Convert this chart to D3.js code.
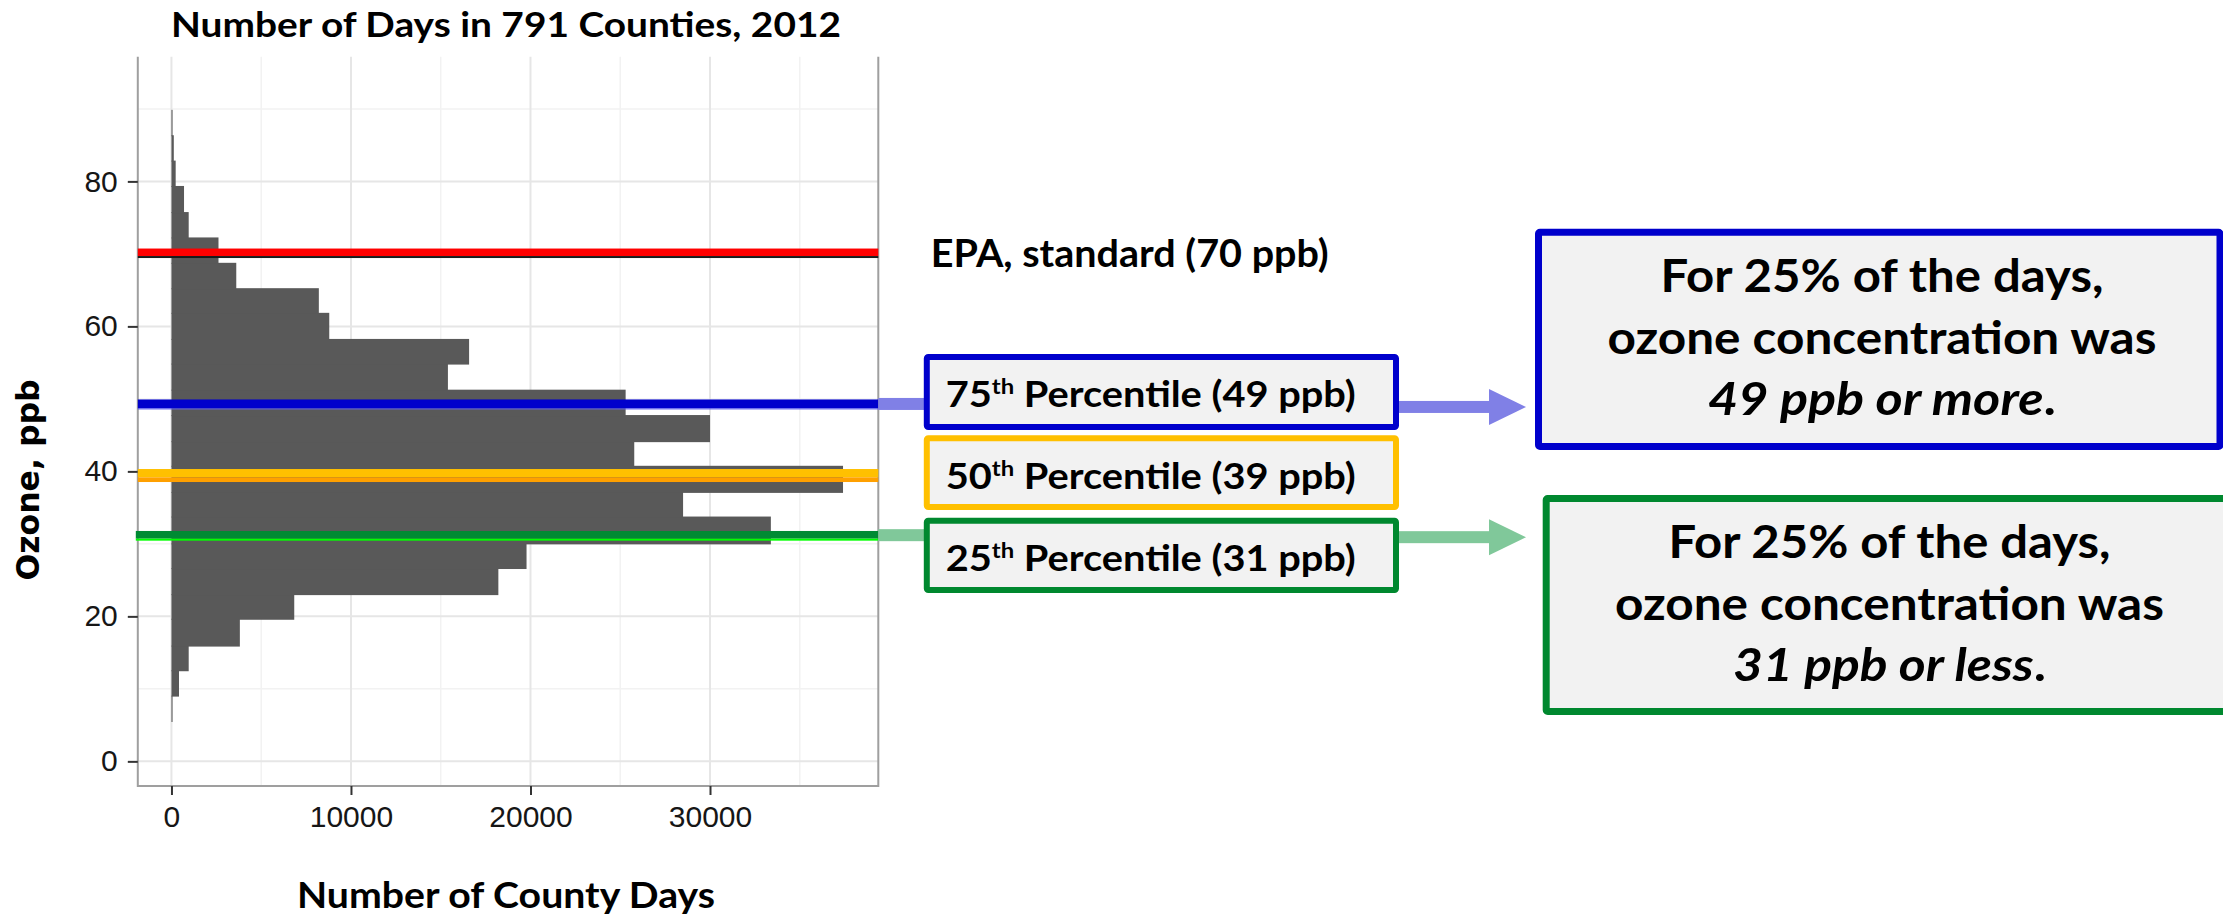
<!DOCTYPE html>
<html>
<head>
<meta charset="utf-8">
<script src="https://cdn.jsdelivr.net/npm/d3@7/dist/d3.min.js"></script>
<style>
  body { margin: 0; background: #ffffff; }
  svg { font-family: Lato, "Open Sans", sans-serif; }
</style>
</head>
<body>
<svg id="chart" width="2223" height="919"></svg>
<script>
// histogram of ozone (ppb) - bin edges and county-day counts
var binEdges = [5.5, 9.0, 12.5, 15.9, 19.6, 23.0, 26.6, 30.0, 33.7, 37.1, 40.7, 44.1, 47.7,
                51.2, 54.8, 58.2, 61.8, 65.2, 68.7, 72.2, 75.7, 79.3, 82.8, 86.3, 89.8];
var binCounts = [60, 420, 960, 3810, 6840, 18210, 19780, 33390, 28500, 37410, 25780, 30000,
                 25300, 15400, 16580, 8790, 8210, 3610, 2620, 960, 700, 235, 130, 60];

var xTicks = [0, 10000, 20000, 30000];
var xMinor = [5000, 15000, 25000, 35000];
var yTicks = [0, 20, 40, 60, 80];
var yMinor = [10, 30, 50, 70, 90];

// reference lines: EPA standard, 75th, 50th, 25th percentile (where they are drawn)
var refLevels = [70.2, 49.3, 39.4, 31.2];
var pctRanks = ["75", "50", "25"];
var pctValues = [49, 39, 31];

var titleText = "Number of Days in 791 Counties, 2012";
var xTitle = "Number of County Days";
var yTitle = "Ozone, ppb";
var epaText = "EPA, standard (70 ppb)";
var noteHigh = ["For 25% of the days,", "ozone concentration was", "49 ppb or more"];
var noteLow = ["For 25% of the days,", "ozone concentration was", "31 ppb or less"];

var svg = d3.select("#chart");

var panelLeft = 137.8, panelRight = 878.3, panelTop = 56.7, panelBottom = 786;

var x = d3.scaleLinear().domain([-1875, 39375]).range([panelLeft, panelRight]);
var y = d3.scaleLinear().domain([-3.4, 97.2]).range([panelBottom, panelTop]);

// squeeze text to the width it has in the picture
function fitWidth(sel, w) {
    sel.attr("textLength", w).attr("lengthAdjust", "spacingAndGlyphs");
}

// grid
var grid = svg.append("g");
grid.selectAll(".xminor").data(xMinor).enter().append("line")
    .attr("x1", function(d){ return x(d); }).attr("x2", function(d){ return x(d); })
    .attr("y1", panelTop).attr("y2", panelBottom)
    .attr("stroke", "#f2f2f2").attr("stroke-width", 1.5);
grid.selectAll(".yminor").data(yMinor).enter().append("line")
    .attr("y1", function(d){ return y(d); }).attr("y2", function(d){ return y(d); })
    .attr("x1", panelLeft).attr("x2", panelRight)
    .attr("stroke", "#f2f2f2").attr("stroke-width", 1.5);
grid.selectAll(".xmajor").data(xTicks).enter().append("line")
    .attr("x1", function(d){ return x(d); }).attr("x2", function(d){ return x(d); })
    .attr("y1", panelTop).attr("y2", panelBottom)
    .attr("stroke", "#e6e6e6").attr("stroke-width", 2);
grid.selectAll(".ymajor").data(yTicks).enter().append("line")
    .attr("y1", function(d){ return y(d); }).attr("y2", function(d){ return y(d); })
    .attr("x1", panelLeft).attr("x2", panelRight)
    .attr("stroke", "#e6e6e6").attr("stroke-width", 2);

// histogram bars (horizontal); a little overlap hides the seams between bins
svg.append("g")
    .selectAll("rect")
    .data(binCounts)
    .enter()
        .append("rect")
        .attr("x", x(0))
        .attr("width", function(d){ return x(d) - x(0); })
        .attr("y", function(d, i){ return y(binEdges[i + 1]) - 0.5; })
        .attr("height", function(d, i){ return y(binEdges[i]) - y(binEdges[i + 1]) + 1; })
        .attr("fill", "#595959");

// panel border (left, right, bottom)
svg.append("path")
    .attr("d", "M" + panelLeft + "," + panelTop + "V" + panelBottom + "H" + panelRight + "V" + panelTop)
    .attr("fill", "none").attr("stroke", "#9f9f9f").attr("stroke-width", 2);

// axes
var yAxis = svg.append("g")
    .attr("transform", "translate(" + panelLeft + ",0)")
    .call(d3.axisLeft(y).tickValues(yTicks).tickSize(10).tickPadding(10));
var xAxis = svg.append("g")
    .attr("transform", "translate(0," + panelBottom + ")")
    .call(d3.axisBottom(x).tickValues(xTicks).tickFormat(d3.format("d")).tickSize(9).tickPadding(11));
[xAxis, yAxis].forEach(function(a){
    a.attr("font-family", null).attr("font-size", null);
    a.select(".domain").remove();
    a.selectAll("line").attr("stroke", "#333").attr("stroke-width", 2);
    a.selectAll("text")
        .style("font-family", "'Liberation Sans', Arial, sans-serif")
        .style("font-size", "30px").attr("fill", "#161616");
});

// reference lines drawn as coloured bands [from, to, colour] around the level
var bands = [
    [[-3.9, 3.6, "#ff0000"], [3.6, 5.6, "#1a1a1a"]],
    [[-4.5, 4.5, "#0000cc"], [4.5, 5.5, "#6060ee"]],
    [[-6.7, 1.6, "#ffc000"], [1.6, 6.3, "#ffa000"]],
    [[-4.2, 3.5, "#008a33"], [3.5, 5.5, "#00ff00"]]
];
refLevels.forEach(function(v, i){
    bands[i].forEach(function(b){
        svg.append("rect")
            .attr("x", i == 3 ? panelLeft - 2 : panelLeft)
            .attr("width", panelRight - panelLeft + (i == 3 ? 2 : 0))
            .attr("y", y(v) + b[0])
            .attr("height", b[1] - b[0])
            .attr("fill", b[2]);
    });
});

// connectors from the panel to the percentile boxes
var boxLeft = 923.8, boxRight = 1399;
[[refLevels[1], "#8080e6"], [refLevels[3], "#80c89a"]].forEach(function(c){
    svg.append("rect")
        .attr("x", panelRight).attr("width", boxLeft - panelRight + 3)
        .attr("y", y(c[0]) - 6).attr("height", 12)
        .attr("fill", c[1]);
});

// arrows to the notes
[[refLevels[1], "#8080e6", 3], [refLevels[3], "#80c89a", 2]].forEach(function(c){
    var cy = y(c[0]) + c[2];
    svg.append("rect")
        .attr("x", boxRight - 2).attr("width", 1490 - boxRight + 2)
        .attr("y", cy - 6).attr("height", 12)
        .attr("fill", c[1]);
    svg.append("path")
        .attr("d", "M1489," + (cy - 18) + "L1526," + cy + "L1489," + (cy + 18) + "Z")
        .attr("fill", c[1]);
});

// percentile boxes
var boxTops = [354, 435.3, 517.7], boxBottoms = [430, 510, 593];
var boxColors = ["#0000cc", "#ffc000", "#00882f"];
var boxBaselines = [407, 488.5, 571];
pctRanks.forEach(function(r, i){
    svg.append("rect")
        .attr("x", boxLeft + 3).attr("width", boxRight - boxLeft - 6)
        .attr("y", boxTops[i] + 3).attr("height", boxBottoms[i] - boxTops[i] - 6)
        .attr("rx", 1.5)
        .attr("fill", "#f2f2f2").attr("stroke", boxColors[i]).attr("stroke-width", 6);
    var t = svg.append("text")
        .attr("x", 945.7).attr("y", boxBaselines[i])
        .attr("font-size", 35.5).attr("font-weight", 700).attr("fill", "#000");
    t.append("tspan").text(r);
    t.append("tspan").attr("font-size", "0.6em").attr("baseline-shift", "super").text("th");
    t.append("tspan").text(" Percentile (" + pctValues[i] + " ppb)");
    fitWidth(t, 410);
});

// EPA label
var epa = svg.append("text")
    .attr("x", 930.7).attr("y", 267)
    .attr("font-size", 38).attr("font-weight", 700).attr("fill", "#000")
    .text(epaText);
fitWidth(epa, 398);

// note boxes
function noteBox(x0, x1, y0, y1, color, lines, baselines, widths, cx) {
    var sw = 7;
    svg.append("rect")
        .attr("x", x0 + sw / 2).attr("width", x1 - x0 - sw)
        .attr("y", y0 + sw / 2).attr("height", y1 - y0 - sw)
        .attr("rx", 1.5)
        .attr("fill", "#f2f2f2").attr("stroke", color).attr("stroke-width", sw);
    lines.forEach(function(l, i){
        var t = svg.append("text")
            .attr("x", cx).attr("y", baselines[i]).attr("text-anchor", "middle")
            .attr("font-size", 46).attr("font-weight", 700).attr("fill", "#000");
        if (i == 2) {
            t.append("tspan").attr("font-style", "italic").text(l);
            t.append("tspan").text(".");
        } else {
            t.text(l);
        }
        fitWidth(t, widths[i]);
    });
}
noteBox(1535, 2223.5, 228.7, 450, "#0000cc", noteHigh, [291.5, 353.7, 414.7], [443, 549, 348], 1882);
noteBox(1542.7, 2236, 495, 715, "#00882f", noteLow, [558, 619.5, 681], [442, 549, 313], 1889.5);

// titles
var title = svg.append("text")
    .attr("x", 506).attr("y", 36.7).attr("text-anchor", "middle")
    .attr("font-size", 35).attr("font-weight", 700).attr("fill", "#000")
    .text(titleText);
fitWidth(title, 670);

var xt = svg.append("text")
    .attr("x", 506).attr("y", 908).attr("text-anchor", "middle")
    .attr("font-size", 37).attr("font-weight", 700).attr("fill", "#000")
    .text(xTitle);
fitWidth(xt, 418);

svg.append("text")
    .attr("transform", "translate(39,480) rotate(-90)")
    .attr("text-anchor", "middle")
    .style("font-family", "'DejaVu Sans', Verdana, sans-serif")
    .style("font-size", "31.5px").attr("font-weight", 700).attr("fill", "#000")
    .text(yTitle);
</script>
</body>
</html>
